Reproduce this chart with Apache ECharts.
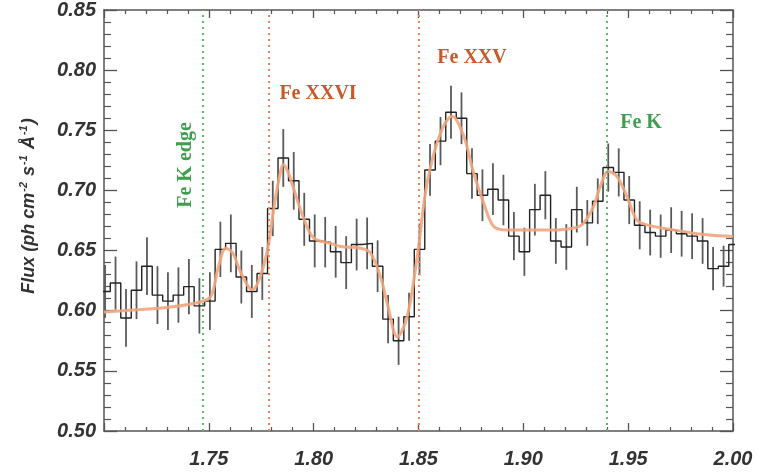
<!DOCTYPE html>
<html>
<head>
<meta charset="utf-8">
<script src="https://cdn.jsdelivr.net/npm/echarts@6/dist/echarts.min.js"></script>
<style>
html,body{margin:0;padding:0;background:#fff;}
#chart{width:757px;height:473px;}
</style>
</head>
<body>
<div id="chart"></div>
<script>
// Bin centres (Angstrom)
const binCenter = [
  1.7005,1.7055,1.7105,1.7155,1.7205,1.7255,1.7305,1.7355,1.7405,1.7455,
  1.7505,1.7555,1.7605,1.7655,1.7705,1.7755,1.7805,1.7855,1.7905,1.7955,
  1.8005,1.8055,1.8105,1.8155,1.8205,1.8255,1.8305,1.8355,1.8405,1.8455,
  1.8505,1.8555,1.8605,1.8655,1.8705,1.8755,1.8805,1.8855,1.8905,1.8955,
  1.9005,1.9055,1.9105,1.9155,1.9205,1.9255,1.9305,1.9355,1.9405,1.9455,
  1.9505,1.9555,1.9605,1.9655,1.9705,1.9755,1.9805,1.9855,1.9905,1.9955,
  2.0005
];
// Observed flux per bin
const flux = [
  0.616,0.623,0.594,0.617,0.637,0.613,0.608,0.613,0.620,0.604,
  0.608,0.651,0.656,0.628,0.616,0.631,0.685,0.727,0.708,0.676,
  0.658,0.657,0.649,0.640,0.655,0.656,0.637,0.593,0.575,0.595,
  0.651,0.717,0.741,0.765,0.760,0.714,0.696,0.701,0.692,0.662,
  0.649,0.684,0.696,0.658,0.653,0.684,0.673,0.691,0.719,0.715,
  0.692,0.671,0.665,0.662,0.667,0.664,0.662,0.658,0.635,0.637,
  0.655
];
// 1-sigma flux errors
const fluxErr = [
  0.022,0.022,0.024,0.024,0.024,0.024,0.024,0.023,0.023,0.023,
  0.024,0.023,0.024,0.022,0.022,0.022,0.023,0.024,0.024,0.022,
  0.022,0.021,0.0215,0.022,0.0215,0.0215,0.0215,0.020,0.020,0.020,
  0.0215,0.0215,0.020,0.022,0.0215,0.021,0.0215,0.0215,0.021,0.020,
  0.020,0.0215,0.020,0.019,0.019,0.019,0.019,0.019,0.020,0.020,
  0.020,0.020,0.019,0.018,0.019,0.019,0.019,0.019,0.018,0.017,
  0.018
];
const binHalfWidth = 0.0025;

// Model curve
const modelWave = [
  1.7000,1.7176,1.7319,1.7462,1.7510,1.7545,1.7581,1.7614,1.7652,1.7708,
  1.7738,1.7780,1.7810,1.7833,1.7856,1.7876,1.7906,1.7954,1.8001,1.8081,
  1.8129,1.8224,1.8271,1.8319,1.8351,1.8399,1.8446,1.8494,1.8541,1.8605,
  1.8660,1.8716,1.8763,1.8811,1.8859,1.8922,1.9129,1.9240,1.9287,1.9335,
  1.9367,1.9406,1.9446,1.9494,1.9541,1.9589,1.9716,1.9875,2.0000
];
const modelFlux = [
  0.599,0.601,0.603,0.6075,0.612,0.636,0.652,0.648,0.632,0.6175,
  0.625,0.6506,0.685,0.708,0.7214,0.716,0.7006,0.676,0.6603,0.656,
  0.6533,0.652,0.648,0.628,0.606,0.5783,0.595,0.645,0.7061,0.7478,
  0.7617,0.745,0.7145,0.6895,0.670,0.667,0.667,0.6687,0.6728,0.6867,
  0.7033,0.7158,0.7117,0.695,0.6756,0.6714,0.6672,0.6631,0.6617
];

// Line identifications
const lineNames = ['Fe K edge','Fe XXVI','Fe XXV','Fe K'];
const lineWave = [1.747, 1.7785, 1.8500, 1.9400];
const lineColor = ['#5fb86a','#e8865a','#e8865a','#5fb86a'];

const xTicks = ['1.75','1.80','1.85','1.90','1.95','2.00'];
const yTicks = ['0.50','0.55','0.60','0.65','0.70','0.75','0.80','0.85'];

// build step line points (left edges + final right edge)
const stepData = binCenter.map((c,i)=>[c-binHalfWidth, flux[i]]);
stepData.push([binCenter[binCenter.length-1]+binHalfWidth, flux[flux.length-1]]);
const errData = binCenter.map((c,i)=>[c, flux[i]-fluxErr[i], flux[i]+fluxErr[i]]);
const modelData = modelWave.map((w,i)=>[w, modelFlux[i]]);

const XMIN=1.70, XMAX=2.00;
const axisCol = '#555';
const labFont = {fontFamily:'Liberation Sans', fontWeight:'bold', fontStyle:'italic', fontSize:20, color:'#333'};

const chart = echarts.init(document.getElementById('chart'), null, {renderer:'canvas'});
const xCommon = {
  type:'value', min:XMIN, max:XMAX, interval:0.05,
  axisLine:{show:true, onZero:false, lineStyle:{color:axisCol, width:1.5}},
  axisTick:{show:true, inside:true, length:8, lineStyle:{color:axisCol, width:1.3}},
  minorTick:{show:true, splitNumber:5, length:4, lineStyle:{color:axisCol, width:1.2}},
  splitLine:{show:false}
};
const yCommon = {
  type:'value', min:0.50, max:0.85, interval:0.05,
  axisLine:{show:true, onZero:false, lineStyle:{color:axisCol, width:1.5}},
  axisTick:{show:true, inside:true, length:13, lineStyle:{color:axisCol, width:1.3}},
  minorTick:{show:true, splitNumber:5, length:7, lineStyle:{color:axisCol, width:1.2}},
  splitLine:{show:false}
};
const option = {
  backgroundColor:'#fff',
  animation:false,
  grid:{left:104, right:24, top:10, bottom:42, containLabel:false},
  xAxis:[
    Object.assign({}, xCommon, {position:'bottom',
      axisLabel:Object.assign({show:true, margin:18, formatter:function(v){
        const s=v.toFixed(2); return xTicks.indexOf(s)>=0 ? s : '';}}, labFont)}),
    Object.assign({}, xCommon, {position:'top', axisLabel:{show:false}})
  ],
  yAxis:[
    Object.assign({}, yCommon, {position:'left',
      axisLabel:Object.assign({show:true, margin:8, formatter:function(v){
        const s=v.toFixed(2); return yTicks.indexOf(s)>=0 ? s : '';}}, labFont)}),
    Object.assign({}, yCommon, {position:'right', axisLabel:{show:false}})
  ],
  series:[
    {
      type:'custom', name:'errors', xAxisIndex:0, yAxisIndex:0, z:2,
      data:errData,
      encode:{x:0, y:[1,2]},
      renderItem:function(params, api){
        const x = api.value(0);
        if (x < XMIN || x > XMAX) return;
        const p1 = api.coord([x, api.value(1)]);
        const p2 = api.coord([x, api.value(2)]);
        return {type:'line', shape:{x1:p1[0], y1:p1[1], x2:p2[0], y2:p2[1]},
          style:{stroke:'#5a5a5a', lineWidth:1.8}};
      },
      silent:true
    },
    {
      type:'line', name:'data', step:'end', data:stepData, showSymbol:false, symbol:'none',
      lineStyle:{color:'#222', width:1.4}, z:3, silent:true
    },
    {
      type:'line', name:'model', data:modelData, showSymbol:false, symbol:'none', smooth:0.35,
      lineStyle:{color:'#efa57c', width:3, opacity:0.9}, z:4, silent:true,
      markLine:{
        silent:true, symbol:['none','none'], label:{show:false}, precision:5,
        data: lineWave.map((w,i)=>({xAxis:w, lineStyle:{color:lineColor[i], width:2, type:[2,4]}}))
      }
    }
  ],
  graphic:[
    {type:'text', x:29, y:206, rotation:Math.PI/2, z:10,
      style:{
        text:'{a|Flux (ph cm}{s|-2}{a| s}{s|-1}{a| Å}{s|-1}{a|)}',
        align:'center', verticalAlign:'middle',
        rich:{
          a:{fontFamily:'Liberation Sans', fontWeight:'bold', fontStyle:'italic', fontSize:18, fill:'#333', lineHeight:22},
          s:{fontFamily:'Liberation Sans', fontWeight:'bold', fontStyle:'italic', fontSize:11, fill:'#333', lineHeight:22, padding:[0,1,11,1]}
        }
      }},
    {type:'text', x:186, y:165, rotation:Math.PI/2, z:10,
      style:{text:lineNames[0], align:'center', verticalAlign:'middle',
        fontFamily:'Liberation Serif', fontWeight:'bold', fontSize:20, fill:'#3f9e4e'}},
    {type:'text', x:318, y:94, z:10,
      style:{text:lineNames[1], align:'center', verticalAlign:'middle',
        fontFamily:'Liberation Serif', fontWeight:'bold', fontSize:20, fill:'#c65a2c'}},
    {type:'text', x:472, y:58, z:10,
      style:{text:lineNames[2], align:'center', verticalAlign:'middle',
        fontFamily:'Liberation Serif', fontWeight:'bold', fontSize:20, fill:'#c65a2c'}},
    {type:'text', x:641, y:123, z:10,
      style:{text:lineNames[3], align:'center', verticalAlign:'middle',
        fontFamily:'Liberation Serif', fontWeight:'bold', fontSize:20, fill:'#3f9e4e'}}
  ]
};
chart.setOption(option);
</script>
</body>
</html>
